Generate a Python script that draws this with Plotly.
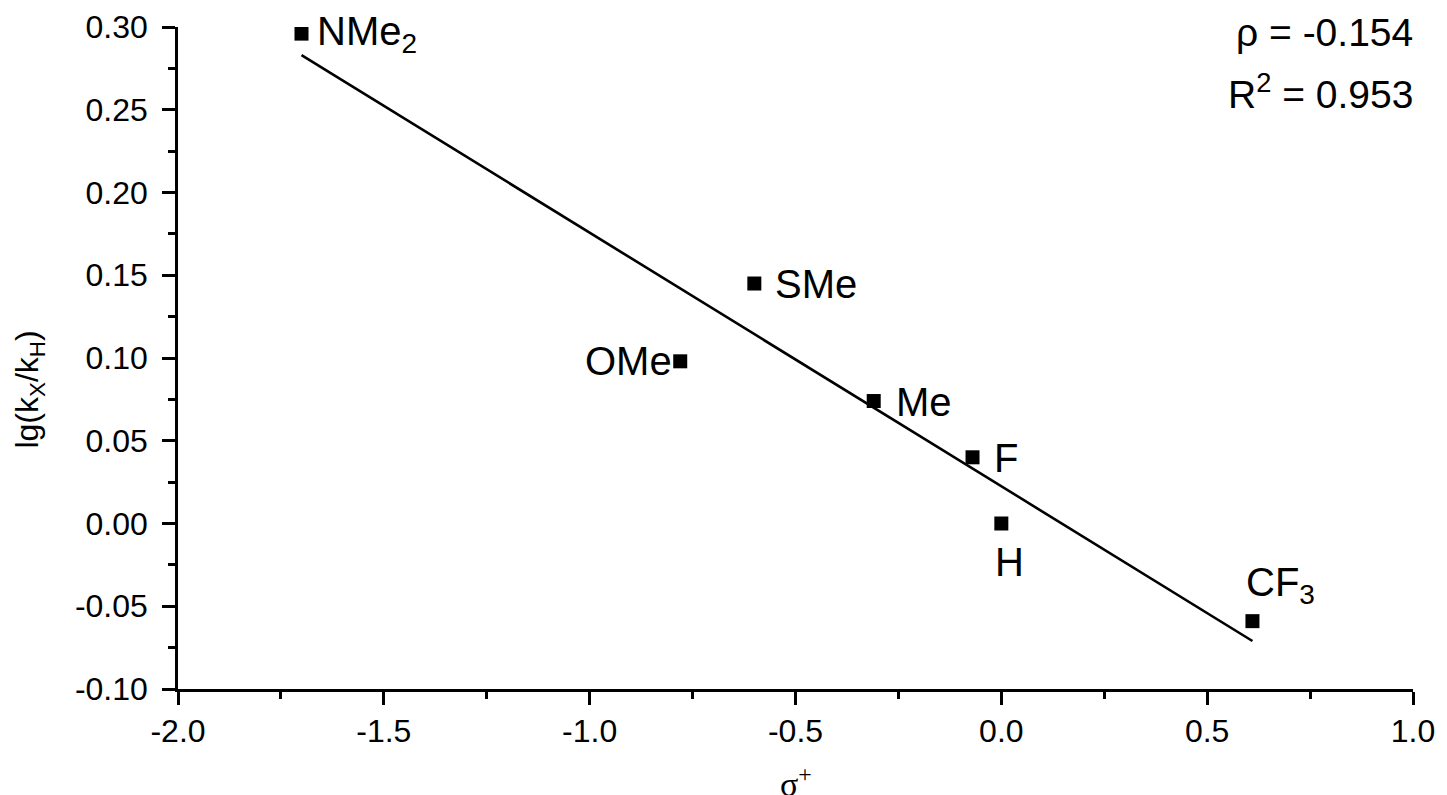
import plotly.graph_objects as go

# Data
substituents = ["NMe<sub>2</sub>", "SMe", "OMe", "Me", "F", "H", "CF<sub>3</sub>"]
sigma_plus = [-1.70, -0.60, -0.78, -0.31, -0.07, 0.00, 0.61]
lg_ratio = [0.296, 0.145, 0.098, 0.074, 0.040, 0.000, -0.059]

# Linear fit line endpoints (as drawn in the reference)
fit_x = [-1.70, 0.61]
fit_y = [0.283, -0.071]

rho_text = "ρ = -0.154"
r2_text = "R<sup>2</sup> = 0.953"

x_ticks = [-2.0, -1.5, -1.0, -0.5, 0.0, 0.5, 1.0]
y_ticks = [-0.10, -0.05, 0.00, 0.05, 0.10, 0.15, 0.20, 0.25, 0.30]

FONT = "Liberation Sans, Arial, sans-serif"

fig = go.Figure()
fig.add_trace(go.Scatter(x=fit_x, y=fit_y, mode="lines",
                         line=dict(color="black", width=2.6), showlegend=False))
fig.add_trace(go.Scatter(x=sigma_plus, y=lg_ratio, mode="markers",
                         marker=dict(symbol="square", size=14, color="black"),
                         showlegend=False))

# label placement (pixel offsets, anchors)
label_style = {
    "NMe<sub>2</sub>": dict(xanchor="left", yanchor="middle", xshift=13, yshift=0),
    "SMe": dict(xanchor="left", yanchor="middle", xshift=19, yshift=0),
    "OMe": dict(xanchor="right", yanchor="middle", xshift=-6, yshift=0),
    "Me": dict(xanchor="left", yanchor="middle", xshift=20, yshift=-1),
    "F": dict(xanchor="left", yanchor="middle", xshift=19, yshift=-1),
    "H": dict(xanchor="center", yanchor="middle", xshift=8, yshift=-38),
    "CF<sub>3</sub>": dict(xanchor="left", yanchor="middle", xshift=-8, yshift=36),
}
for name, xv, yv in zip(substituents, sigma_plus, lg_ratio):
    st = label_style[name]
    fig.add_annotation(x=xv, y=yv, xref="x", yref="y", text=name, showarrow=False,
                       font=dict(family=FONT, size=40, color="black"), **st)

fig.add_annotation(x=1.0, y=0.991, xref="paper", yref="paper", text=rho_text,
                   showarrow=False, xanchor="right", yanchor="middle", xshift=2,
                   font=dict(family=FONT, size=39, color="black"))
fig.add_annotation(x=1.0, y=0.903, xref="paper", yref="paper", text=r2_text,
                   showarrow=False, xanchor="right", yanchor="middle", xshift=2,
                   font=dict(family=FONT, size=39, color="black"))

# axis titles
fig.add_annotation(x=-0.120, y=0.452, xref="paper", yref="paper",
                   text="lg(k<sub>X</sub>/k<sub>H</sub>)", textangle=-90,
                   showarrow=False, xanchor="center", yanchor="middle",
                   font=dict(family=FONT, size=32, color="black"))
fig.add_annotation(x=0.5, y=-0.106, xref="paper", yref="paper",
                   text="σ<sup>+</sup>", showarrow=False,
                   xanchor="center", yanchor="top",
                   font=dict(family="Liberation Serif, Times New Roman, serif", size=34, color="black"))

axis_common = dict(showline=True, linecolor="black", linewidth=2.5, ticks="outside",
                   ticklen=13, tickwidth=2.5, tickcolor="black", showgrid=False,
                   zeroline=False, mirror=False, automargin=False,
                   tickfont=dict(family=FONT, size=32, color="black"))

fig.update_xaxes(range=[-2.0, 1.0], tickvals=x_ticks,
                 ticktext=[f"{v:.1f}" for v in x_ticks], ticklabelstandoff=-1,
                 minor=dict(ticks="outside", ticklen=7, tickwidth=2.5, tickcolor="black",
                            dtick=0.25, tick0=-2.0, showgrid=False),
                 **axis_common)
fig.update_yaxes(range=[-0.10, 0.30], tickvals=y_ticks,
                 ticktext=[f"{v:.2f}" for v in y_ticks], ticklabelstandoff=8,
                 minor=dict(ticks="outside", ticklen=7, tickwidth=2.5, tickcolor="black",
                            dtick=0.025, tick0=-0.1, showgrid=False),
                 **axis_common)

fig.update_layout(width=1439, height=787, plot_bgcolor="white", paper_bgcolor="white",
                  margin=dict(l=170, r=34, t=19, b=106), showlegend=False)

fig.write_html("out.html")
